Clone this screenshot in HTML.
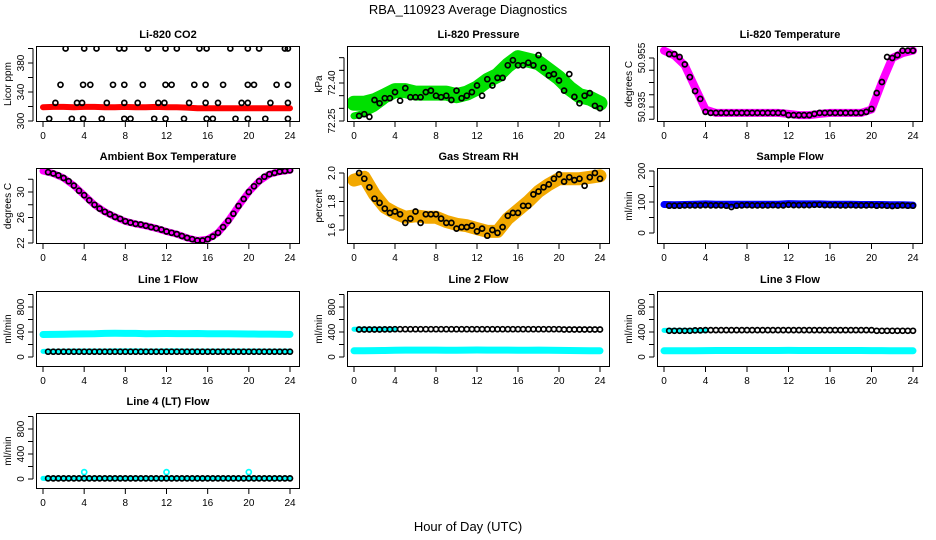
<!DOCTYPE html>
<html><head><meta charset="utf-8"><style>
html,body{margin:0;padding:0;background:#fff;}
svg{display:block;font-family:"Liberation Sans",sans-serif;}
</style></head><body>
<svg id="chart" width="936" height="540" viewBox="0 0 936 540">
<text x="468" y="14" text-anchor="middle" font-size="13">RBA_110923  Average Diagnostics</text>
<text x="468" y="531" text-anchor="middle" font-size="13">Hour of Day (UTC)</text>
</svg>
<script>
// ---- data ----
const xTicks = [0,4,8,12,16,20,24];
const halfHours = [0.5,1,1.5,2,2.5,3,3.5,4,4.5,5,5.5,6,6.5,7,7.5,8,8.5,9,9.5,10,10.5,11,11.5,12,12.5,13,13.5,14,14.5,15,15.5,16,16.5,17,17.5,18,18.5,19,19.5,20,20.5,21,21.5,22,22.5,23,23.5,24];
const hours = [0,1,2,3,4,5,6,7,8,9,10,11,12,13,14,15,16,17,18,19,20,21,22,23,24];

const co2Hours = [2.2,4,5.2,7.4,7.9,10.2,11.9,13,15.2,15.9,18.2,19.9,21,23.5,23.8, 1.7,3.9,4.6,6.8,7.9,9.7,11.9,12.5,14.7,15.8,17.5,19.9,20.5,22.7,23.8, 1.2,3.3,3.8,6.2,7.9,9.2,11.2,11.8,14.2,15.8,17,19.3,19.9,22.1,23.8, 0.6,2.8,3.9,5.7,7.9,8.5,10.8,11.9,13.7,15.9,16.5,18.7,19.9,21.6,23.8];
const co2Black = [400,400,400,400,400,400,400,400,400,400,400,400,400,400,400, 350,350,350,350,350,350,350,350,350,350,350,350,350,350,350, 325,325,325,325,325,325,325,325,325,325,325,325,325,325,325, 303,303,303,303,303,303,303,303,303,303,303,303,303,303,303];
const co2Red = [319,319.5,319.5,319,319.5,319.5,319,319,319.5,319,319,319.5,319,319,318.5,317.5,317.5,317.5,317.5,317.5,317.5,317.5,317.5,317.5,317.5];

const presBlack = [72.27,72.277,72.266,72.333,72.32,72.34,72.34,72.364,72.33,72.38,72.344,72.344,72.344,72.364,72.37,72.35,72.344,72.35,72.333,72.37,72.34,72.35,72.364,72.39,72.35,72.415,72.39,72.42,72.42,72.47,72.49,72.47,72.47,72.48,72.47,72.51,72.46,72.43,72.435,72.41,72.37,72.435,72.345,72.32,72.35,72.36,72.31,72.30];
const presGreen = [72.32,72.32,72.33,72.35,72.37,72.37,72.36,72.36,72.36,72.36,72.35,72.36,72.38,72.41,72.43,72.47,72.50,72.49,72.48,72.45,72.42,72.38,72.35,72.34,72.32];
const presGreenLowHours = [0,1,2,3,4];
const presGreenLow = [72.27,72.28,72.30,72.33,72.37];

const tempBlack = [50.9566,50.9566,50.9554,50.9524,50.9472,50.9415,50.9383,50.933,50.9326,50.9326,50.9326,50.9326,50.9326,50.9326,50.9326,50.9326,50.9326,50.9326,50.9326,50.9326,50.9326,50.9326,50.9326,50.9317,50.9317,50.9317,50.9317,50.9317,50.9322,50.9326,50.9326,50.9326,50.9326,50.9326,50.9326,50.9326,50.9326,50.9326,50.933,50.9342,50.9407,50.9452,50.9554,50.955,50.9562,50.958,50.958,50.958];
const tempMagenta = [50.958,50.956,50.952,50.943,50.934,50.9326,50.9326,50.9326,50.9326,50.9326,50.9326,50.9326,50.9322,50.9317,50.9317,50.9322,50.9326,50.9326,50.9326,50.9326,50.934,50.945,50.955,50.957,50.958];

const ambBlack = [33.1,32.9,32.6,32.2,31.7,31.0,30.2,29.5,28.7,28.0,27.4,26.9,26.5,26.1,25.8,25.4,25.2,25.0,24.9,24.7,24.5,24.3,24.1,23.8,23.6,23.4,23.1,22.8,22.6,22.4,22.4,22.6,23.0,23.6,24.5,25.5,26.6,27.8,28.9,30.0,30.9,31.7,32.4,32.8,33.0,33.2,33.3,33.4];
const ambMagenta = [33.3,32.9,32.2,31.0,29.5,28.0,26.9,26.1,25.4,25.0,24.7,24.3,23.8,23.4,22.8,22.4,22.6,23.6,25.5,27.8,30.0,31.7,32.8,33.2,33.4];

const rhBlack = [2.0,1.96,1.90,1.82,1.79,1.75,1.72,1.73,1.71,1.65,1.68,1.73,1.65,1.71,1.71,1.71,1.68,1.65,1.65,1.61,1.62,1.62,1.63,1.59,1.61,1.56,1.60,1.58,1.62,1.70,1.72,1.72,1.77,1.77,1.85,1.87,1.90,1.92,1.96,1.99,1.94,1.97,1.95,1.96,1.91,1.97,2.0,1.96];
const rhOrange = [1.95,1.97,1.85,1.76,1.72,1.69,1.70,1.69,1.69,1.66,1.64,1.63,1.61,1.59,1.59,1.68,1.74,1.80,1.87,1.92,1.96,1.96,1.96,1.97,1.98];

const sampleBlack = [88,88,88,89,89,89,89,90,89,89,89,88,84,88,89,90,89,89,89,89,90,89,89,91,90,90,90,90,91,91,90,90,90,89,89,90,89,89,89,90,88,89,88,87,88,89,88,88];
const sampleBlue = [92,91,92,93,94,93,93,93,93,93,93,93,95,94,94,94,93,93,93,92,92,92,91,91,90];

const line1Cyan = [360,362,365,368,370,372,378,380,378,378,372,375,376,374,375,376,372,372,372,370,368,366,366,364,362];
const line1CyanLow = [90,92,94,96,96,96,96,98,98,98,96,96,98,98,96,96,96,96,96,96,96,96,94,94,94];
const line1Black = [85,85,85,85,85,85,85,85,85,85,85,85,85,85,85,85,85,85,85,85,85,85,85,85,85,85,85,85,85,85,85,85,85,85,85,85,85,85,85,85,85,85,85,85,85,85,85,85];

const line2Black = [440,440,440,440,440,442,442,445,445,445,445,445,445,445,445,445,445,445,445,445,445,445,445,445,445,445,445,445,445,445,445,445,445,445,445,445,445,445,445,445,440,440,440,440,440,440,440,440];
const line2Cyan = [100,100,102,104,108,110,110,110,110,108,108,110,112,110,110,110,108,108,110,108,106,104,102,100,100];
const line2CyanHigh = [445,445,445,445,440];
const cyanHighHours = [0,1,2,3,4];

const line3Black = [420,420,420,420,420,425,425,430,430,430,430,430,430,430,430,430,430,430,430,430,430,430,430,430,430,430,430,430,430,430,430,430,430,430,430,430,430,430,430,430,420,420,420,420,420,420,420,420];
const line3Cyan = [100,100,100,100,102,104,104,104,104,104,104,104,106,104,104,104,104,104,104,104,102,102,100,100,100];
const line3CyanHigh = [425,425,425,425,420];

const line4Black = [10,10,10,10,10,10,10,10,10,10,10,10,10,10,10,10,10,10,10,10,10,10,10,10,10,10,10,10,10,10,10,10,10,10,10,10,10,10,10,10,10,10,10,10,10,10,10,10];
const line4Cyan = [10,10,10,10,10,10,10,10,10,10,10,10,10,10,10,10,10,10,10,10,10,10,10,10,10];
const line4OutHours = [4,12,20];
const line4Out = [110,110,110];

const flowTicks = [0,200,400,600,800,1000];
const flowLabels = [0,400,800];

// ---- layout ----
const NS = 'http://www.w3.org/2000/svg';
const svg = document.getElementById('chart');
const cols = [[36,300],[347,610],[657,923]];
const rowsY = [[46,122],[168,244],[291,367],[413,489]];

function mk(tag, attrs, parent){
  const e = document.createElementNS(NS, tag);
  for (const k in attrs) e.setAttribute(k, attrs[k]);
  (parent||svg).appendChild(e);
  return e;
}

function panel(cfg){
  const [L,R] = cols[cfg.col], [T,B] = rowsY[cfg.row];
  const g = mk('g', {});
  
  
  const x = h => (L+7) + h*((R-10)-(L+7))/24;
  const y = v => T + cfg.p1 + (v-cfg.v1)*(cfg.p2-cfg.p1)/(cfg.v2-cfg.v1);
  const clipId = 'clip-'+cfg.name;
  const cp = mk('clipPath', {id: clipId}, g);
  mk('rect', {x:L, y:T, width:R-L, height:B-T}, cp);
  const plot = mk('g', {'clip-path':'url(#'+clipId+')'}, g);
  
  
  (cfg.bands||[]).forEach(b => {
    const d = b.xs.map((h,i) => (i?'L':'M')+x(h).toFixed(1)+' '+y(b.ys[i]).toFixed(1)).join(' ');
    const p = mk('path', {d:d, fill:'none', stroke:b.color, 'stroke-width':b.w, 'stroke-linecap':'round', 'stroke-linejoin':'round'}, plot);
    
    
  });
  (cfg.points||[]).forEach(s => {
    s.xs.forEach((h,i) => {
      const c = mk('circle', {cx:x(h).toFixed(1), cy:y(s.ys[i]).toFixed(1), r:2.5, fill:'none', stroke:s.color, 'stroke-width':1.7}, plot);
      
      
    });
  });
  const box = mk('rect', {x:L+0.5, y:T+0.5, width:R-L-1, height:B-T-1, fill:'none', stroke:'#000', 'stroke-width':1}, g);
  
  
  const t = mk('text', {x:(L+R)/2, y:T-8, 'text-anchor':'middle', 'font-size':11, 'font-weight':'bold'}, g);
  t.textContent = cfg.title;
  
  
  xTicks.forEach(h => {
    mk('line', {x1:x(h), x2:x(h), y1:B, y2:B+5, stroke:'#000'}, g);
    const lt = mk('text', {x:x(h), y:B+17, 'text-anchor':'middle', 'font-size':10}, g);
    lt.textContent = h;
    
    
  });
  const ax = L-3;
  const yt = cfg.yTicks.map(y);
  mk('line', {x1:ax, x2:ax, y1:Math.min(...yt), y2:Math.max(...yt), stroke:'#000'}, g);
  yt.forEach(py => mk('line', {x1:ax-5, x2:ax, y1:py, y2:py, stroke:'#000'}, g));
  cfg.yLabels.forEach((v,i) => {
    const py = y(v);
    const lt = mk('text', {x:0, y:0, 'text-anchor':'middle', 'font-size':10, transform:'translate('+(L-12)+','+py+') rotate(-90)'}, g);
    lt.textContent = cfg.yLabelText ? cfg.yLabelText[i] : v;
    
    
  });
  const yl = mk('text', {x:0, y:0, 'text-anchor':'middle', 'font-size':10, transform:'translate('+(L-25)+','+((T+B)/2)+') rotate(-90)'}, g);
  yl.textContent = cfg.ylab;
  
  
}

const BLK = '#000', CY = '#00ffff';

panel({name:'co2-panel', title:'Li-820 CO2', col:0, row:0, ylab:'Licor ppm', v1:300, p1:75, v2:380, p2:17,
  yTicks:[300,320,340,360,380,400], yLabels:[300,340,380],
  bands:[{name:'co2-red-band', xs:hours, ys:co2Red, color:'#ff0000', w:6}],
  points:[{name:'co2-point', xs:co2Hours, ys:co2Black, color:BLK}]});

panel({name:'pressure-panel', title:'Li-820 Pressure', col:1, row:0, ylab:'kPa', v1:72.25, p1:75, v2:72.40, p2:37,
  yTicks:[72.25,72.30,72.35,72.40,72.45,72.50], yLabels:[72.25,72.40], yLabelText:['72.25','72.40'],
  bands:[{name:'pressure-green-band', xs:hours, ys:presGreen, color:'#00e000', w:15},
         {name:'pressure-green-low-band', xs:presGreenLowHours, ys:presGreenLow, color:'#00e000', w:7}],
  points:[{name:'pressure-point', xs:halfHours, ys:presBlack, color:BLK}]});

panel({name:'li820-temp-panel', title:'Li-820 Temperature', col:2, row:0, ylab:'degrees C', v1:50.935, p1:61, v2:50.955, p2:12,
  yTicks:[50.93,50.935,50.94,50.945,50.95,50.955], yLabels:[50.935,50.955], yLabelText:['50.935','50.955'],
  bands:[{name:'temp-magenta-band', xs:hours, ys:tempMagenta, color:'#ff00ff', w:8}],
  points:[{name:'temp-point', xs:halfHours, ys:tempBlack, color:BLK}]});

panel({name:'ambient-temp-panel', title:'Ambient Box Temperature', col:0, row:1, ylab:'degrees C', v1:30, p1:24, v2:22, p2:75,
  yTicks:[22,24,26,28,30,32], yLabels:[22,26,30],
  bands:[{name:'ambient-magenta-band', xs:hours, ys:ambMagenta, color:'#ff00ff', w:7}],
  points:[{name:'ambient-point', xs:halfHours, ys:ambBlack, color:BLK}]});

panel({name:'rh-panel', title:'Gas Stream RH', col:1, row:1, ylab:'percent', v1:2.0, p1:5, v2:1.6, p2:62,
  yTicks:[1.6,1.7,1.8,1.9,2.0], yLabels:[1.6,1.8,2.0], yLabelText:['1.6','1.8','2.0'],
  bands:[{name:'rh-orange-band', xs:hours, ys:rhOrange, color:'#f2a800', w:13}],
  points:[{name:'rh-point', xs:halfHours, ys:rhBlack, color:BLK}]});

panel({name:'sample-flow-panel', title:'Sample Flow', col:2, row:1, ylab:'ml/min', v1:0, p1:65, v2:200, p2:3,
  yTicks:[0,50,100,150,200], yLabels:[0,100,200],
  bands:[{name:'sample-blue-band', xs:hours, ys:sampleBlue, color:'#0000ff', w:7}],
  points:[{name:'sample-point', xs:halfHours, ys:sampleBlack, color:BLK}]});

panel({name:'line1-flow-panel', title:'Line 1 Flow', col:0, row:2, ylab:'ml/min', v1:0, p1:66, v2:800, p2:16,
  yTicks:flowTicks, yLabels:flowLabels,
  bands:[{name:'line1-cyan-band', xs:hours, ys:line1Cyan, color:CY, w:7},
         {name:'line1-cyan-low-band', xs:hours, ys:line1CyanLow, color:CY, w:5}],
  points:[{name:'line1-point', xs:halfHours, ys:line1Black, color:BLK}]});

panel({name:'line2-flow-panel', title:'Line 2 Flow', col:1, row:2, ylab:'ml/min', v1:0, p1:66, v2:800, p2:16,
  yTicks:flowTicks, yLabels:flowLabels,
  bands:[{name:'line2-cyan-band', xs:hours, ys:line2Cyan, color:CY, w:7},
         {name:'line2-cyan-high-band', xs:cyanHighHours, ys:line2CyanHigh, color:CY, w:5}],
  points:[{name:'line2-point', xs:halfHours, ys:line2Black, color:BLK}]});

panel({name:'line3-flow-panel', title:'Line 3 Flow', col:2, row:2, ylab:'ml/min', v1:0, p1:66, v2:800, p2:16,
  yTicks:flowTicks, yLabels:flowLabels,
  bands:[{name:'line3-cyan-band', xs:hours, ys:line3Cyan, color:CY, w:7},
         {name:'line3-cyan-high-band', xs:cyanHighHours, ys:line3CyanHigh, color:CY, w:5}],
  points:[{name:'line3-point', xs:halfHours, ys:line3Black, color:BLK}]});

panel({name:'line4-flow-panel', title:'Line 4 (LT) Flow', col:0, row:3, ylab:'ml/min', v1:0, p1:66, v2:800, p2:16,
  yTicks:flowTicks, yLabels:flowLabels,
  bands:[{name:'line4-cyan-band', xs:hours, ys:line4Cyan, color:CY, w:5}],
  points:[{name:'line4-cyan-outlier', xs:line4OutHours, ys:line4Out, color:CY},
          {name:'line4-point', xs:halfHours, ys:line4Black, color:BLK}]});
</script>
</body></html>
